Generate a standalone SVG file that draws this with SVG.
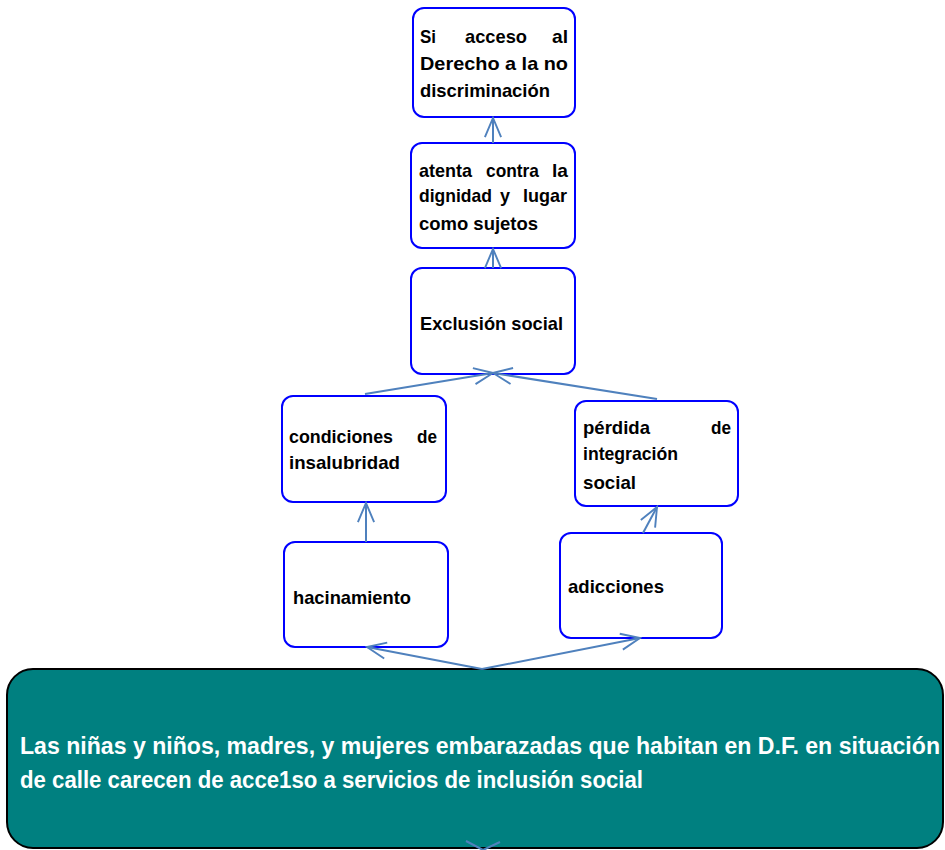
<svg xmlns="http://www.w3.org/2000/svg" width="945" height="850" viewBox="0 0 945 850">
<style>
.box{fill:#ffffff;stroke:#0000ff;stroke-width:2}
.main{fill:#008080;stroke:#000000;stroke-width:2}
.t{font-family:"Liberation Sans",Arial,sans-serif;font-weight:bold;font-size:19px;fill:#000000}
.w{font-family:"Liberation Sans",Arial,sans-serif;font-weight:bold;font-size:23px;fill:#ffffff}
.c{fill:none;stroke:#4f81bd;stroke-width:2}
</style>
<defs>
<marker id="arr" markerUnits="userSpaceOnUse" markerWidth="24" markerHeight="20" refX="20" refY="8.5" orient="auto" viewBox="-2 -2 24 21">
<path d="M0,0 L20,8.5 L0,17" fill="none" stroke="#4f81bd" stroke-width="2"/>
</marker>
</defs>
<rect width="945" height="850" fill="#ffffff"/>
<g id="n1">
<rect class="box" x="413" y="8" width="162" height="109" rx="11"/>
<text class="t" x="420" y="43" textLength="16" lengthAdjust="spacingAndGlyphs">Si</text>
<text class="t" x="465" y="43" textLength="62" lengthAdjust="spacingAndGlyphs">acceso</text>
<text class="t" x="552" y="43" textLength="16" lengthAdjust="spacingAndGlyphs">al</text>
<text class="t" x="420" y="70" textLength="148" lengthAdjust="spacingAndGlyphs">Derecho a la no</text>
<text class="t" x="420" y="97" textLength="130" lengthAdjust="spacingAndGlyphs">discriminación</text>
</g>
<g id="n2">
<rect class="box" x="411" y="143" width="164" height="105" rx="11"/>
<text class="t" x="419" y="177" textLength="53" lengthAdjust="spacingAndGlyphs">atenta</text>
<text class="t" x="486" y="177" textLength="53" lengthAdjust="spacingAndGlyphs">contra</text>
<text class="t" x="552" y="177" textLength="16" lengthAdjust="spacingAndGlyphs">la</text>
<text class="t" x="419" y="202" textLength="73" lengthAdjust="spacingAndGlyphs">dignidad</text>
<text class="t" x="500" y="202" textLength="10" lengthAdjust="spacingAndGlyphs">y</text>
<text class="t" x="523" y="202" textLength="44" lengthAdjust="spacingAndGlyphs">lugar</text>
<text class="t" x="419" y="230" textLength="119" lengthAdjust="spacingAndGlyphs">como sujetos</text>
</g>
<g id="n3">
<rect class="box" x="411" y="268" width="164" height="106" rx="11"/>
<text class="t" x="420" y="330" textLength="143" lengthAdjust="spacingAndGlyphs">Exclusión social</text>
</g>
<g id="n4">
<rect class="box" x="282" y="396" width="164" height="106" rx="11"/>
<text class="t" x="289" y="443" textLength="104" lengthAdjust="spacingAndGlyphs">condiciones</text>
<text class="t" x="417" y="443" textLength="20" lengthAdjust="spacingAndGlyphs">de</text>
<text class="t" x="289" y="469" textLength="111" lengthAdjust="spacingAndGlyphs">insalubridad</text>
</g>
<g id="n5">
<rect class="box" x="575" y="401" width="163" height="105" rx="11"/>
<text class="t" x="583" y="434" textLength="67" lengthAdjust="spacingAndGlyphs">pérdida</text>
<text class="t" x="711" y="434" textLength="20" lengthAdjust="spacingAndGlyphs">de</text>
<text class="t" x="583" y="460" textLength="95" lengthAdjust="spacingAndGlyphs">integración</text>
<text class="t" x="583" y="489" textLength="53" lengthAdjust="spacingAndGlyphs">social</text>
</g>
<g id="n6">
<rect class="box" x="284" y="542" width="164" height="105" rx="11"/>
<text class="t" x="293" y="604" textLength="118" lengthAdjust="spacingAndGlyphs">hacinamiento</text>
</g>
<g id="n7">
<rect class="box" x="560" y="533" width="162" height="105" rx="11"/>
<text class="t" x="568" y="593" textLength="96" lengthAdjust="spacingAndGlyphs">adicciones</text>
</g>
<g id="n8">
<rect class="main" x="7" y="669" width="936" height="179" rx="26"/>
<text class="w" x="20" y="754" textLength="920" lengthAdjust="spacingAndGlyphs">Las niñas y niños, madres, y mujeres embarazadas que habitan en D.F. en situación</text>
<text class="w" x="20" y="788" textLength="623" lengthAdjust="spacingAndGlyphs">de calle carecen de acce1so a servicios de inclusión social</text>
</g>
<g id="connectors">
<line class="c" x1="493" y1="143" x2="493" y2="118" marker-end="url(#arr)"/>
<line class="c" x1="493" y1="268" x2="493" y2="249" marker-end="url(#arr)"/>
<line class="c" x1="365" y1="394" x2="493" y2="373" marker-end="url(#arr)"/>
<line class="c" x1="657" y1="399" x2="493" y2="373" marker-end="url(#arr)"/>
<line class="c" x1="366" y1="542" x2="366" y2="503" marker-end="url(#arr)"/>
<line class="c" x1="643" y1="533" x2="657" y2="507" marker-end="url(#arr)"/>
<line class="c" x1="482" y1="669" x2="367" y2="647" marker-end="url(#arr)"/>
<line class="c" x1="482" y1="669" x2="640" y2="638" marker-end="url(#arr)"/>
<polyline class="c" points="466,841 483,850 500,842"/>
</g>
</svg>
